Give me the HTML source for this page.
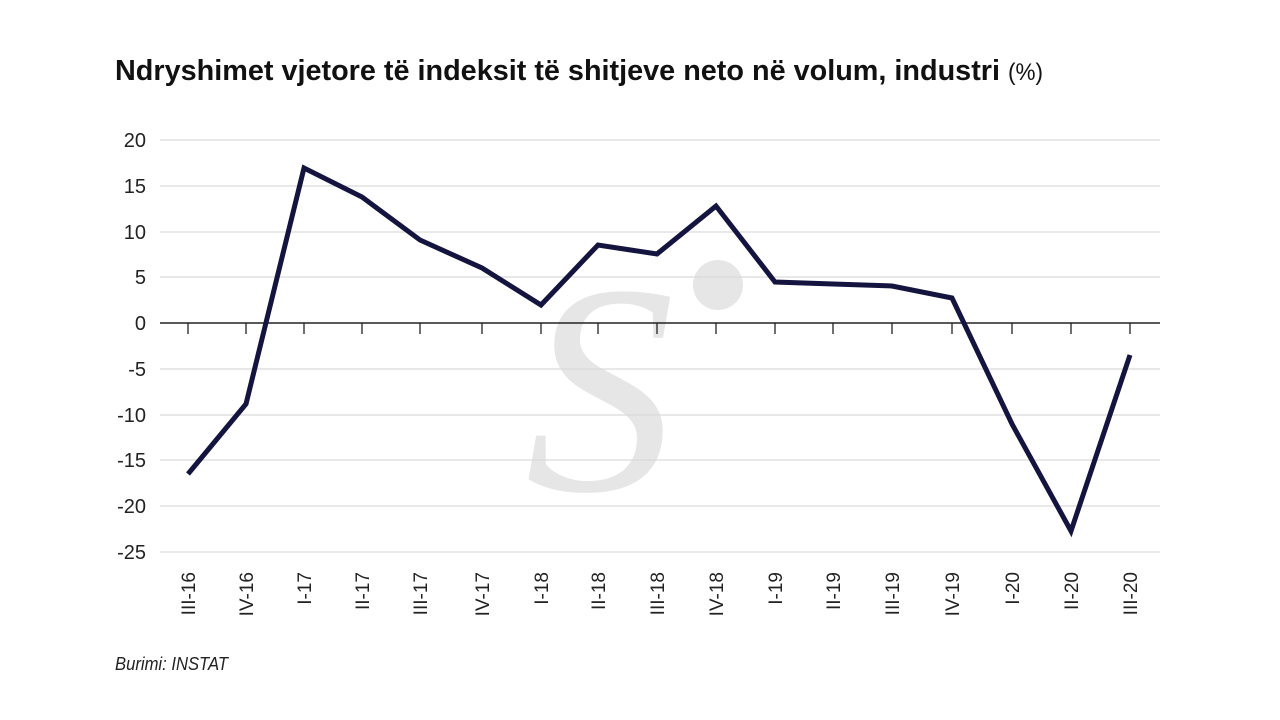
<!DOCTYPE html>
<html><head><meta charset="utf-8"><style>
body{margin:0;background:#fff;}
svg{display:block;font-family:"Liberation Sans Narrow","Liberation Sans",sans-serif;}
</style></head><body>
<svg width="1280" height="720" viewBox="0 0 1280 720" xmlns="http://www.w3.org/2000/svg">
<rect width="1280" height="720" fill="#fff"/>
<text x="115" y="80" font-size="29" font-weight="bold" fill="#111" textLength="885" lengthAdjust="spacingAndGlyphs">Ndryshimet vjetore të indeksit të shitjeve neto në volum, industri</text>
<text x="1008" y="80" font-size="24" fill="#111" textLength="35" lengthAdjust="spacingAndGlyphs">(%)</text>
<!-- watermark -->
<text x="525" y="490" font-family="Liberation Serif,serif" font-size="300" font-style="italic" fill="#e6e6e6">S</text>
<circle cx="718" cy="285" r="25" fill="#e6e6e6"/>
<g stroke="#d9d9d9" stroke-width="1.3">
<line x1="160" y1="140" x2="1160" y2="140"/>
<line x1="160" y1="186" x2="1160" y2="186"/>
<line x1="160" y1="232" x2="1160" y2="232"/>
<line x1="160" y1="277" x2="1160" y2="277"/>
<line x1="160" y1="369" x2="1160" y2="369"/>
<line x1="160" y1="415" x2="1160" y2="415"/>
<line x1="160" y1="460" x2="1160" y2="460"/>
<line x1="160" y1="506" x2="1160" y2="506"/>
<line x1="160" y1="552" x2="1160" y2="552"/>
</g>
<line x1="160" y1="323" x2="1160" y2="323" stroke="#222" stroke-width="1.5"/>
<g stroke="#222" stroke-width="1.3">
<line x1="188" y1="323" x2="188" y2="334"/><line x1="246" y1="323" x2="246" y2="334"/><line x1="304" y1="323" x2="304" y2="334"/><line x1="362" y1="323" x2="362" y2="334"/><line x1="420" y1="323" x2="420" y2="334"/><line x1="482" y1="323" x2="482" y2="334"/><line x1="541" y1="323" x2="541" y2="334"/><line x1="598" y1="323" x2="598" y2="334"/><line x1="657" y1="323" x2="657" y2="334"/><line x1="716" y1="323" x2="716" y2="334"/><line x1="775" y1="323" x2="775" y2="334"/><line x1="833" y1="323" x2="833" y2="334"/><line x1="892" y1="323" x2="892" y2="334"/><line x1="952" y1="323" x2="952" y2="334"/><line x1="1012" y1="323" x2="1012" y2="334"/><line x1="1071" y1="323" x2="1071" y2="334"/><line x1="1130" y1="323" x2="1130" y2="334"/>
</g>
<g font-size="20" fill="#222" text-anchor="end">
<text x="146" y="147">20</text><text x="146" y="193">15</text><text x="146" y="239">10</text><text x="146" y="284">5</text><text x="146" y="330">0</text><text x="146" y="376">-5</text><text x="146" y="422">-10</text><text x="146" y="467">-15</text><text x="146" y="513">-20</text><text x="146" y="559">-25</text>
</g>
<g font-size="19" fill="#222" text-anchor="end">
<text transform="translate(195,572) rotate(-90)">III-16</text>
<text transform="translate(253,572) rotate(-90)">IV-16</text>
<text transform="translate(311,572) rotate(-90)">I-17</text>
<text transform="translate(369,572) rotate(-90)">II-17</text>
<text transform="translate(427,572) rotate(-90)">III-17</text>
<text transform="translate(489,572) rotate(-90)">IV-17</text>
<text transform="translate(548,572) rotate(-90)">I-18</text>
<text transform="translate(605,572) rotate(-90)">II-18</text>
<text transform="translate(664,572) rotate(-90)">III-18</text>
<text transform="translate(723,572) rotate(-90)">IV-18</text>
<text transform="translate(782,572) rotate(-90)">I-19</text>
<text transform="translate(840,572) rotate(-90)">II-19</text>
<text transform="translate(899,572) rotate(-90)">III-19</text>
<text transform="translate(959,572) rotate(-90)">IV-19</text>
<text transform="translate(1019,572) rotate(-90)">I-20</text>
<text transform="translate(1078,572) rotate(-90)">II-20</text>
<text transform="translate(1137,572) rotate(-90)">III-20</text>
</g>
<polyline fill="none" stroke="#14143f" stroke-width="5" stroke-linejoin="miter" points="188,474 246,404 304,168 362,197 420,240 482,268 541,305 598,245 657,254 716,206 775,282 833,284 892,286 952,298 1012,424 1071,531 1130,355"/>
<text x="115" y="670" font-size="18" font-style="italic" fill="#222" textLength="113" lengthAdjust="spacingAndGlyphs">Burimi: INSTAT</text>
</svg>
</body></html>
